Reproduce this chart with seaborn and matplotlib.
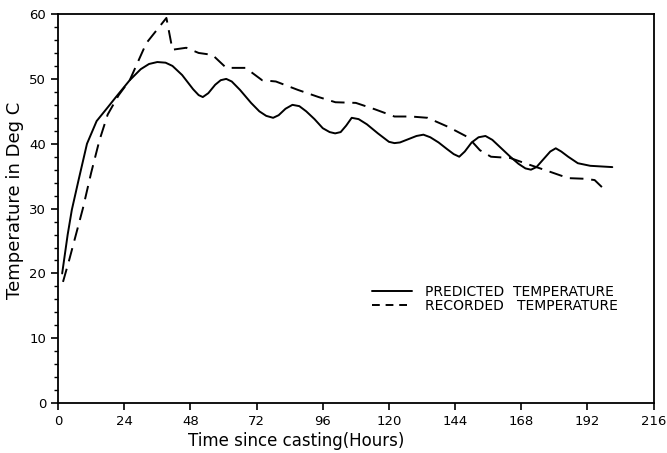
import matplotlib
matplotlib.use("Agg")
import matplotlib.pyplot as plt
import seaborn as sns
import pandas as pd
from matplotlib.ticker import MultipleLocator

pred_hours = [1.5, 3.5, 5, 7.5, 10.5, 14, 18, 21, 26, 30, 33, 36, 39, 41.5, 45, 49, 51, 52.5,
              54.5, 57, 59, 61, 63, 66, 70, 73, 75.5, 78, 80, 82.5, 85, 87.5, 90, 93, 96,
              98.5, 100.5, 102.5, 104.5, 106.5, 109, 112, 116, 120, 122, 124, 127, 130,
              132.5, 135, 138, 141, 143.5, 145.5, 147.5, 150, 152.5, 155, 157.5, 160, 164,
              167, 169.5, 171.5, 173.5, 176, 178.5, 180.5, 182.5, 185, 188.5, 193, 197, 201]
pred_temp = [20, 26, 29.8, 34.5, 40, 43.5, 45.6, 47.2, 49.8, 51.5, 52.3, 52.6, 52.5, 52,
             50.6, 48.4, 47.5, 47.2, 47.8, 49.1, 49.8, 50, 49.6, 48.3, 46.3, 45, 44.3, 44,
             44.4, 45.4, 46, 45.8, 45, 43.8, 42.4, 41.8, 41.6, 41.8, 42.8, 44, 43.8, 43,
             41.6, 40.3, 40.1, 40.2, 40.7, 41.2, 41.4, 41, 40.2, 39.2, 38.4, 38, 38.8, 40.2,
             41, 41.2, 40.6, 39.6, 38, 36.9, 36.2, 36, 36.4, 37.6, 38.8, 39.3, 38.8, 38,
             37, 36.6, 36.5, 36.4]

rec_hours = [1.8, 4, 6.5, 9, 12, 15, 18, 22, 26, 32, 39.3, 41.5, 46.5, 51, 56, 61, 68, 74, 79,
             87, 94.5, 100.6, 108, 115, 122, 128, 134, 141.5, 148.7, 153, 157, 164, 170,
             177.6, 185, 191, 194.6, 198]
rec_temp = [18.7, 22, 26, 30, 35.5, 40.5, 44.5, 47.5, 49.8, 55.5, 59.4, 54.5, 54.8, 54, 53.7,
            51.7, 51.7, 49.8, 49.6, 48.3, 47.2, 46.4, 46.3, 45.3, 44.2, 44.2, 44, 42.6, 41,
            39, 38, 37.8, 36.9, 35.8, 34.7, 34.6, 34.4, 33]

x_ticks = [0, 24, 48, 72, 96, 120, 144, 168, 192, 216]
y_ticks = [0, 10, 20, 30, 40, 50, 60]

sns.set_style("ticks")
plt.rcParams['font.family'] = ['DejaVu Sans']
plt.rcParams.update({"text.color": "black", "axes.labelcolor": "black",
                     "xtick.color": "black", "ytick.color": "black"})

fig = plt.figure(figsize=(6.67, 4.53), dpi=100)
ax = fig.add_axes([0.087, 0.110, 0.893, 0.859])

pred = pd.DataFrame({"hours": pred_hours, "temp": pred_temp})
rec = pd.DataFrame({"hours": rec_hours, "temp": rec_temp})

sns.lineplot(data=pred, x="hours", y="temp", ax=ax, color="black", lw=1.4,
             label="PREDICTED  TEMPERATURE", sort=False)
sns.lineplot(data=rec, x="hours", y="temp", ax=ax, color="black", lw=1.4,
             label="RECORDED   TEMPERATURE", sort=False)
ax.lines[0].set_solid_joinstyle("round")
ax.lines[1].set_dashes((7, 4))

ax.set_xlim(0, 216)
ax.set_ylim(0, 60)
ax.set_xticks(x_ticks)
ax.set_yticks(y_ticks)
ax.yaxis.set_minor_locator(MultipleLocator(2))
ax.tick_params(axis="both", which="major", labelsize=9.5, length=5, width=1.2, color="black",
               labelcolor="black", direction="out")
ax.tick_params(axis="y", which="minor", length=3, width=1.0, color="black", direction="out")
for s in ax.spines.values():
    s.set_color("black")
    s.set_linewidth(1.3)

ax.set_xlabel("Time since casting(Hours)", fontsize=12, color="black")
ax.set_ylabel("Temperature in Deg C", fontsize=13, color="black")
ax.xaxis.set_label_coords(0.40, -0.075)
ax.yaxis.set_label_coords(-0.057, 0.52)

leg = ax.legend(loc="upper left", bbox_to_anchor=(0.527, 0.303), frameon=False, fontsize=10,
                handlelength=2.9, handletextpad=0.9, labelspacing=0.0, borderpad=0,
                borderaxespad=0)
for t in leg.get_texts():
    t.set_color("black")
leg.get_lines()[1].set_dashes((4, 3))

fig.savefig("out.png", dpi=100)
